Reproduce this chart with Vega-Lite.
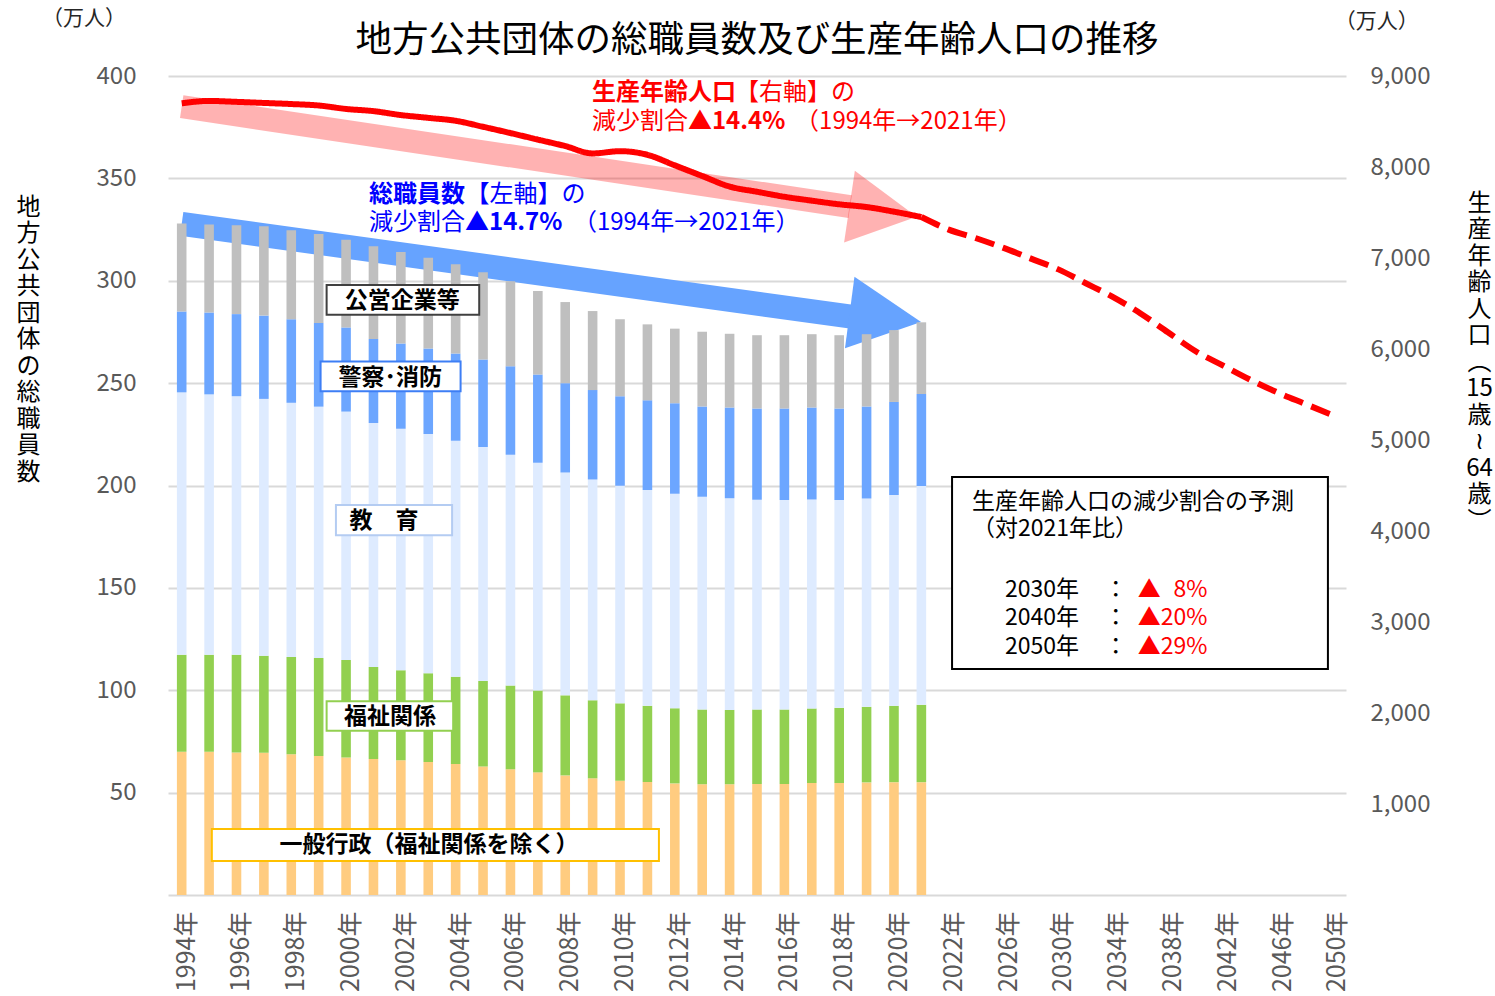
{
  "$schema": "https://vega.github.io/schema/vega-lite/v6.json",
  "width": 1178,
  "height": 819,
  "autosize": {"type": "none"},
  "padding": {"left": 168, "top": 76, "right": 149, "bottom": 101},
  "background": "#FFFFFF",
  "config": {"font": "Noto Sans CJK JP", "view": {"stroke": null}},
  "layer": [
    {
      "layer": [
        {
          "encoding": {
            "x": {"field": "xi", "type": "quantitative", "scale": {"domain": [-0.5, 42.5], "nice": false, "zero": false}, "axis": null},
            "y": {"field": "v", "type": "quantitative", "scale": {"domain": [0, 400], "nice": false, "zero": false}, "axis": null}
          },
          "layer": [
            {"data": {"values": [{"xi": 0, "v": 385.0}, {"xi": 24.4, "v": 336.2}]},
             "mark": {"type": "line", "color": "#FF0000", "opacity": 0.3, "strokeWidth": 23, "strokeCap": "butt"}},
            {"data": {"values": [{"xi": 26.83, "v": 331.3}]},
             "mark": {"type": "point", "shape": "M0,0L-1,-0.535L-1,0.535Z", "filled": true, "color": "#FF0000", "opacity": 0.3, "size": 18496, "angle": 8.5, "strokeWidth": 0}},
            {"data": {"values": [{"xi": 0, "v": 327.8}, {"xi": 25.5, "v": 280.5}]},
             "mark": {"type": "line", "color": "#66A3FF", "strokeWidth": 24, "strokeCap": "butt"}},
            {"data": {"values": [{"xi": 26.99, "v": 279.9}]},
             "mark": {"type": "point", "shape": "M0,0L-1,-0.5L-1,0.5Z", "filled": true, "color": "#66A3FF", "opacity": 1, "size": 20736, "angle": 7.55, "strokeWidth": 0}}
          ]
        },
        {
          "data": {"values": [
            {"x":"1994年","seg":"一般行政","o":1,"v":70.0},{"x":"1994年","seg":"福祉関係","o":2,"v":47.3},{"x":"1994年","seg":"教育","o":3,"v":128.2},{"x":"1994年","seg":"警察・消防","o":4,"v":39.5},{"x":"1994年","seg":"公営企業等","o":5,"v":43.0},
            {"x":"1995年","seg":"一般行政","o":1,"v":70.0},{"x":"1995年","seg":"福祉関係","o":2,"v":47.3},{"x":"1995年","seg":"教育","o":3,"v":127.2},{"x":"1995年","seg":"警察・消防","o":4,"v":40.0},{"x":"1995年","seg":"公営企業等","o":5,"v":43.0},
            {"x":"1996年","seg":"一般行政","o":1,"v":69.6},{"x":"1996年","seg":"福祉関係","o":2,"v":47.7},{"x":"1996年","seg":"教育","o":3,"v":126.3},{"x":"1996年","seg":"警察・消防","o":4,"v":40.1},{"x":"1996年","seg":"公営企業等","o":5,"v":43.4},
            {"x":"1997年","seg":"一般行政","o":1,"v":69.5},{"x":"1997年","seg":"福祉関係","o":2,"v":47.4},{"x":"1997年","seg":"教育","o":3,"v":125.4},{"x":"1997年","seg":"警察・消防","o":4,"v":40.7},{"x":"1997年","seg":"公営企業等","o":5,"v":43.6},
            {"x":"1998年","seg":"一般行政","o":1,"v":68.8},{"x":"1998年","seg":"福祉関係","o":2,"v":47.5},{"x":"1998年","seg":"教育","o":3,"v":124.1},{"x":"1998年","seg":"警察・消防","o":4,"v":40.8},{"x":"1998年","seg":"公営企業等","o":5,"v":43.5},
            {"x":"1999年","seg":"一般行政","o":1,"v":67.9},{"x":"1999年","seg":"福祉関係","o":2,"v":47.9},{"x":"1999年","seg":"教育","o":3,"v":122.7},{"x":"1999年","seg":"警察・消防","o":4,"v":40.9},{"x":"1999年","seg":"公営企業等","o":5,"v":43.4},
            {"x":"2000年","seg":"一般行政","o":1,"v":67.2},{"x":"2000年","seg":"福祉関係","o":2,"v":47.6},{"x":"2000年","seg":"教育","o":3,"v":121.3},{"x":"2000年","seg":"警察・消防","o":4,"v":41.1},{"x":"2000年","seg":"公営企業等","o":5,"v":42.8},
            {"x":"2001年","seg":"一般行政","o":1,"v":66.4},{"x":"2001年","seg":"福祉関係","o":2,"v":44.9},{"x":"2001年","seg":"教育","o":3,"v":119.2},{"x":"2001年","seg":"警察・消防","o":4,"v":41.1},{"x":"2001年","seg":"公営企業等","o":5,"v":45.2},
            {"x":"2002年","seg":"一般行政","o":1,"v":65.8},{"x":"2002年","seg":"福祉関係","o":2,"v":44.0},{"x":"2002年","seg":"教育","o":3,"v":117.9},{"x":"2002年","seg":"警察・消防","o":4,"v":41.7},{"x":"2002年","seg":"公営企業等","o":5,"v":44.6},
            {"x":"2003年","seg":"一般行政","o":1,"v":64.9},{"x":"2003年","seg":"福祉関係","o":2,"v":43.4},{"x":"2003年","seg":"教育","o":3,"v":116.8},{"x":"2003年","seg":"警察・消防","o":4,"v":41.8},{"x":"2003年","seg":"公営企業等","o":5,"v":44.3},
            {"x":"2004年","seg":"一般行政","o":1,"v":64.0},{"x":"2004年","seg":"福祉関係","o":2,"v":42.6},{"x":"2004年","seg":"教育","o":3,"v":115.3},{"x":"2004年","seg":"警察・消防","o":4,"v":42.6},{"x":"2004年","seg":"公営企業等","o":5,"v":43.6},
            {"x":"2005年","seg":"一般行政","o":1,"v":62.8},{"x":"2005年","seg":"福祉関係","o":2,"v":41.7},{"x":"2005年","seg":"教育","o":3,"v":114.3},{"x":"2005年","seg":"警察・消防","o":4,"v":42.7},{"x":"2005年","seg":"公営企業等","o":5,"v":42.6},
            {"x":"2006年","seg":"一般行政","o":1,"v":61.4},{"x":"2006年","seg":"福祉関係","o":2,"v":40.9},{"x":"2006年","seg":"教育","o":3,"v":112.7},{"x":"2006年","seg":"警察・消防","o":4,"v":43.3},{"x":"2006年","seg":"公営企業等","o":5,"v":41.4},
            {"x":"2007年","seg":"一般行政","o":1,"v":59.9},{"x":"2007年","seg":"福祉関係","o":2,"v":40.0},{"x":"2007年","seg":"教育","o":3,"v":111.2},{"x":"2007年","seg":"警察・消防","o":4,"v":43.1},{"x":"2007年","seg":"公営企業等","o":5,"v":40.8},
            {"x":"2008年","seg":"一般行政","o":1,"v":58.4},{"x":"2008年","seg":"福祉関係","o":2,"v":39.1},{"x":"2008年","seg":"教育","o":3,"v":108.8},{"x":"2008年","seg":"警察・消防","o":4,"v":43.7},{"x":"2008年","seg":"公営企業等","o":5,"v":39.6},
            {"x":"2009年","seg":"一般行政","o":1,"v":57.0},{"x":"2009年","seg":"福祉関係","o":2,"v":38.1},{"x":"2009年","seg":"教育","o":3,"v":107.8},{"x":"2009年","seg":"警察・消防","o":4,"v":43.7},{"x":"2009年","seg":"公営企業等","o":5,"v":38.6},
            {"x":"2010年","seg":"一般行政","o":1,"v":55.8},{"x":"2010年","seg":"福祉関係","o":2,"v":37.8},{"x":"2010年","seg":"教育","o":3,"v":106.3},{"x":"2010年","seg":"警察・消防","o":4,"v":43.7},{"x":"2010年","seg":"公営企業等","o":5,"v":37.6},
            {"x":"2011年","seg":"一般行政","o":1,"v":55.2},{"x":"2011年","seg":"福祉関係","o":2,"v":37.2},{"x":"2011年","seg":"教育","o":3,"v":105.4},{"x":"2011年","seg":"警察・消防","o":4,"v":43.8},{"x":"2011年","seg":"公営企業等","o":5,"v":37.1},
            {"x":"2012年","seg":"一般行政","o":1,"v":54.5},{"x":"2012年","seg":"福祉関係","o":2,"v":36.7},{"x":"2012年","seg":"教育","o":3,"v":104.8},{"x":"2012年","seg":"警察・消防","o":4,"v":44.2},{"x":"2012年","seg":"公営企業等","o":5,"v":36.4},
            {"x":"2013年","seg":"一般行政","o":1,"v":54.1},{"x":"2013年","seg":"福祉関係","o":2,"v":36.5},{"x":"2013年","seg":"教育","o":3,"v":103.9},{"x":"2013年","seg":"警察・消防","o":4,"v":44.1},{"x":"2013年","seg":"公営企業等","o":5,"v":36.5},
            {"x":"2014年","seg":"一般行政","o":1,"v":54.1},{"x":"2014年","seg":"福祉関係","o":2,"v":36.3},{"x":"2014年","seg":"教育","o":3,"v":103.4},{"x":"2014年","seg":"警察・消防","o":4,"v":44.3},{"x":"2014年","seg":"公営企業等","o":5,"v":36.0},
            {"x":"2015年","seg":"一般行政","o":1,"v":54.2},{"x":"2015年","seg":"福祉関係","o":2,"v":36.4},{"x":"2015年","seg":"教育","o":3,"v":102.5},{"x":"2015年","seg":"警察・消防","o":4,"v":44.5},{"x":"2015年","seg":"公営企業等","o":5,"v":35.8},
            {"x":"2016年","seg":"一般行政","o":1,"v":54.2},{"x":"2016年","seg":"福祉関係","o":2,"v":36.4},{"x":"2016年","seg":"教育","o":3,"v":102.3},{"x":"2016年","seg":"警察・消防","o":4,"v":44.7},{"x":"2016年","seg":"公営企業等","o":5,"v":35.8},
            {"x":"2017年","seg":"一般行政","o":1,"v":54.7},{"x":"2017年","seg":"福祉関係","o":2,"v":36.4},{"x":"2017年","seg":"教育","o":3,"v":102.1},{"x":"2017年","seg":"警察・消防","o":4,"v":44.9},{"x":"2017年","seg":"公営企業等","o":5,"v":35.8},
            {"x":"2018年","seg":"一般行政","o":1,"v":54.7},{"x":"2018年","seg":"福祉関係","o":2,"v":36.7},{"x":"2018年","seg":"教育","o":3,"v":101.5},{"x":"2018年","seg":"警察・消防","o":4,"v":44.7},{"x":"2018年","seg":"公営企業等","o":5,"v":35.8},
            {"x":"2019年","seg":"一般行政","o":1,"v":55.0},{"x":"2019年","seg":"福祉関係","o":2,"v":36.9},{"x":"2019年","seg":"教育","o":3,"v":101.7},{"x":"2019年","seg":"警察・消防","o":4,"v":45.0},{"x":"2019年","seg":"公営企業等","o":5,"v":35.3},
            {"x":"2020年","seg":"一般行政","o":1,"v":55.1},{"x":"2020年","seg":"福祉関係","o":2,"v":37.3},{"x":"2020年","seg":"教育","o":3,"v":102.9},{"x":"2020年","seg":"警察・消防","o":4,"v":45.5},{"x":"2020年","seg":"公営企業等","o":5,"v":35.1},
            {"x":"2021年","seg":"一般行政","o":1,"v":55.1},{"x":"2021年","seg":"福祉関係","o":2,"v":37.8},{"x":"2021年","seg":"教育","o":3,"v":106.9},{"x":"2021年","seg":"警察・消防","o":4,"v":44.9},{"x":"2021年","seg":"公営企業等","o":5,"v":35.0}
          ]},
          "mark": {"type": "bar", "width": {"band": 0.35}},
          "encoding": {
            "x": {
              "field": "x", "type": "ordinal",
              "scale": {"domain": ["1994年","1995年","1996年","1997年","1998年","1999年","2000年","2001年","2002年","2003年","2004年","2005年","2006年","2007年","2008年","2009年","2010年","2011年","2012年","2013年","2014年","2015年","2016年","2017年","2018年","2019年","2020年","2021年","2022年","2024年","2026年","2028年","2030年","2032年","2034年","2036年","2038年","2040年","2042年","2044年","2046年","2048年","2050年"], "paddingInner": 0, "paddingOuter": 0},
              "axis": {
                "orient": "bottom",
                "values": ["1994年","1996年","1998年","2000年","2002年","2004年","2006年","2008年","2010年","2012年","2014年","2016年","2018年","2020年","2022年","2026年","2030年","2034年","2038年","2042年","2046年","2050年"],
                "labelAngle": -90, "labelFontSize": 25, "labelColor": "#595959", "labelPadding": 16, "labelOffset": 5,
                "ticks": false, "domain": true, "domainColor": "#D9D9D9", "domainWidth": 2, "grid": false, "title": null
              }
            },
            "y": {
              "field": "v", "type": "quantitative", "stack": "zero",
              "scale": {"domain": [0, 400], "nice": false},
              "axis": {
                "orient": "left",
                "values": [50, 100, 150, 200, 250, 300, 350, 400],
                "grid": true, "gridColor": "#D9D9D9", "gridWidth": 2, "domain": false, "ticks": false,
                "labelFontSize": 24, "labelColor": "#595959", "labelPadding": 32,
                "title": ["地","方","公","共","団","体","の","総","職","員","数"],
                "titleAngle": 0, "titleAlign": "center", "titleBaseline": "top", "titleX": -140, "titleY": 119,
                "titleFontSize": 24, "titleFontWeight": "normal", "titleColor": "#000000", "titleLineHeight": 26.5
              }
            },
            "color": {
              "field": "seg", "type": "nominal",
              "scale": {"domain": ["一般行政","福祉関係","教育","警察・消防","公営企業等"], "range": ["#FFCC80","#92D050","#DEEBFF","#6CA6FF","#BFBFBF"]},
              "legend": null
            },
            "order": {"field": "o", "type": "quantitative"}
          }
        },
        {
          "encoding": {
            "x": {"field": "xi", "type": "quantitative", "scale": {"domain": [-0.5, 42.5], "nice": false, "zero": false}, "axis": null},
            "y": {"field": "v", "type": "quantitative", "scale": {"domain": [0, 400], "nice": false, "zero": false}, "axis": null}
          },
          "layer": [
            {
              "data": {"values": [
                {"box": "公営企業等", "xi": 5.29, "xi2": 10.86, "v": 297.9, "v2": 283.4},
                {"box": "警察・消防", "xi": 5.07, "xi2": 10.18, "v": 260.6, "v2": 246.0},
                {"box": "教育", "xi": 5.63, "xi2": 9.87, "v": 190.5, "v2": 175.7},
                {"box": "福祉関係", "xi": 5.29, "xi2": 9.91, "v": 94.6, "v2": 80.2},
                {"box": "一般行政", "xi": 1.10, "xi2": 17.42, "v": 32.2, "v2": 16.6},
                {"box": "予測", "xi": 28.12, "xi2": 41.84, "v": 204.2, "v2": 110.4}
              ]},
              "mark": {"type": "rect", "fill": "#FFFFFF", "strokeWidth": 2},
              "encoding": {
                "x2": {"field": "xi2"},
                "y2": {"field": "v2"},
                "stroke": {"field": "box", "type": "nominal", "scale": {"domain": ["公営企業等","警察・消防","教育","福祉関係","一般行政","予測"], "range": ["#404040","#3D7EF5","#B4CCF2","#92D050","#FFC000","#000000"]}, "legend": null}
              }
            },
            {
              "data": {"values": [
                {"t": "公営企業等", "xi": 8.05, "v": 289.9},
                {"t": "警察･消防", "xi": 7.61, "v": 252.5},
                {"t": "教　育", "xi": 7.38, "v": 182.8},
                {"t": "福祉関係", "xi": 7.60, "v": 86.9},
                {"t": "一般行政（福祉関係を除く）", "xi": 9.03, "v": 24.4}
              ]},
              "mark": {"type": "text", "fontSize": 23, "fontWeight": "bold", "color": "#000000", "align": "center", "baseline": "middle"},
              "encoding": {"text": {"field": "t"}}
            },
            {
              "data": {"values": [
                {"t": "生産年齢人口", "xi": 14.98, "v": 391.6},
                {"t": "▲14.4%", "xi": 18.48, "v": 377.7}
              ]},
              "mark": {"type": "text", "fontSize": 24, "fontWeight": "bold", "color": "#FF0000", "align": "left", "baseline": "middle"},
              "encoding": {"text": {"field": "t"}}
            },
            {
              "data": {"values": [
                {"t": "【右軸】の", "xi": 20.2, "v": 391.6},
                {"t": "減少割合", "xi": 14.98, "v": 377.7},
                {"t": "（1994年→2021年）", "xi": 22.39, "v": 377.7}
              ]},
              "mark": {"type": "text", "fontSize": 24, "fontWeight": "normal", "color": "#FF0000", "align": "left", "baseline": "middle"},
              "encoding": {"text": {"field": "t"}}
            },
            {
              "data": {"values": [
                {"t": "総職員数", "xi": 6.84, "v": 341.9},
                {"t": "▲14.7%", "xi": 10.34, "v": 328.1}
              ]},
              "mark": {"type": "text", "fontSize": 24, "fontWeight": "bold", "color": "#0000FF", "align": "left", "baseline": "middle"},
              "encoding": {"text": {"field": "t"}}
            },
            {
              "data": {"values": [
                {"t": "【左軸】の", "xi": 10.36, "v": 341.9},
                {"t": "減少割合", "xi": 6.84, "v": 328.1},
                {"t": "（1994年→2021年）", "xi": 14.28, "v": 328.1}
              ]},
              "mark": {"type": "text", "fontSize": 24, "fontWeight": "normal", "color": "#0000FF", "align": "left", "baseline": "middle"},
              "encoding": {"text": {"field": "t"}}
            },
            {
              "data": {"values": [
                {"t": "生産年齢人口の減少割合の予測", "xi": 28.85, "v": 192.1},
                {"t": "（対2021年比）", "xi": 28.85, "v": 178.6},
                {"t": "2030年", "xi": 30.05, "v": 149.0},
                {"t": "2040年", "xi": 30.05, "v": 135.1},
                {"t": "2050年", "xi": 30.05, "v": 121.3},
                {"t": "：", "xi": 33.68, "v": 149.0},
                {"t": "：", "xi": 33.68, "v": 135.1},
                {"t": "：", "xi": 33.68, "v": 121.3}
              ]},
              "mark": {"type": "text", "fontSize": 23, "color": "#000000", "align": "left", "baseline": "middle"},
              "encoding": {"text": {"field": "t"}}
            },
            {
              "data": {"values": [
                {"t": "▲\u20078%", "xi": 34.9, "v": 149.0},
                {"t": "▲20%", "xi": 34.9, "v": 135.1},
                {"t": "▲29%", "xi": 34.9, "v": 121.3}
              ]},
              "mark": {"type": "text", "fontSize": 23, "color": "#FF0000", "align": "left", "baseline": "middle"},
              "encoding": {"text": {"field": "t"}}
            },
            {
              "data": {"values": [
                {"t": "地方公共団体の総職員数及び生産年齢人口の推移", "xi": 21, "v": 417.0}
              ]},
              "mark": {"type": "text", "fontSize": 36.5, "color": "#000000", "align": "center", "baseline": "middle"},
              "encoding": {"text": {"field": "t"}}
            },
            {
              "data": {"values": [
                {"t": "（万人）", "xi": -3.57, "v": 427.8},
                {"t": "（万人）", "xi": 43.62, "v": 426.4}
              ]},
              "mark": {"type": "text", "fontSize": 21, "color": "#262626", "align": "center", "baseline": "middle"},
              "encoding": {"text": {"field": "t"}}
            }
          ]
        }
      ],
      "resolve": {"scale": {"x": "independent", "y": "independent"}}
    },
    {
      "data": {"values": [
        {"x":"1994年","pop":8700,"kind":"実績"},{"x":"1995年","pop":8726,"kind":"実績"},{"x":"1996年","pop":8716,"kind":"実績"},{"x":"1997年","pop":8704,"kind":"実績"},
        {"x":"1998年","pop":8692,"kind":"実績"},{"x":"1999年","pop":8676,"kind":"実績"},{"x":"2000年","pop":8638,"kind":"実績"},{"x":"2001年","pop":8614,"kind":"実績"},
        {"x":"2002年","pop":8571,"kind":"実績"},{"x":"2003年","pop":8540,"kind":"実績"},{"x":"2004年","pop":8508,"kind":"実績"},{"x":"2005年","pop":8442,"kind":"実績"},
        {"x":"2006年","pop":8373,"kind":"実績"},{"x":"2007年","pop":8301,"kind":"実績"},{"x":"2008年","pop":8230,"kind":"実績"},{"x":"2009年","pop":8149,"kind":"実績"},
        {"x":"2010年","pop":8174,"kind":"実績"},{"x":"2011年","pop":8134,"kind":"実績"},{"x":"2012年","pop":8018,"kind":"実績"},{"x":"2013年","pop":7901,"kind":"実績"},
        {"x":"2014年","pop":7785,"kind":"実績"},{"x":"2015年","pop":7728,"kind":"実績"},{"x":"2016年","pop":7673,"kind":"実績"},{"x":"2017年","pop":7630,"kind":"実績"},
        {"x":"2018年","pop":7590,"kind":"実績"},{"x":"2019年","pop":7560,"kind":"実績"},{"x":"2020年","pop":7509,"kind":"実績"},{"x":"2021年","pop":7450,"kind":"実績"},
        {"x":"2021年","pop":7450,"kind":"推計"},{"x":"2022年","pop":7312,"kind":"推計"},{"x":"2024年","pop":7217,"kind":"推計"},{"x":"2026年","pop":7111,"kind":"推計"},
        {"x":"2028年","pop":6993,"kind":"推計"},{"x":"2030年","pop":6875,"kind":"推計"},{"x":"2032年","pop":6723,"kind":"推計"},{"x":"2034年","pop":6570,"kind":"推計"},
        {"x":"2036年","pop":6391,"kind":"推計"},{"x":"2038年","pop":6184,"kind":"推計"},{"x":"2040年","pop":5978,"kind":"推計"},{"x":"2042年","pop":5820,"kind":"推計"},
        {"x":"2044年","pop":5663,"kind":"推計"},{"x":"2046年","pop":5522,"kind":"推計"},{"x":"2048年","pop":5398,"kind":"推計"},{"x":"2050年","pop":5275,"kind":"推計"}
      ]},
      "mark": {"type": "line", "color": "#FF0000", "strokeWidth": 6, "interpolate": "monotone"},
      "encoding": {
        "x": {
          "field": "x", "type": "ordinal",
          "scale": {"type": "point", "padding": 0.5, "domain": ["1994年","1995年","1996年","1997年","1998年","1999年","2000年","2001年","2002年","2003年","2004年","2005年","2006年","2007年","2008年","2009年","2010年","2011年","2012年","2013年","2014年","2015年","2016年","2017年","2018年","2019年","2020年","2021年","2022年","2024年","2026年","2028年","2030年","2032年","2034年","2036年","2038年","2040年","2042年","2044年","2046年","2048年","2050年"]},
          "axis": null
        },
        "y": {
          "field": "pop", "type": "quantitative",
          "scale": {"domain": [0, 9000], "nice": false},
          "axis": {
            "orient": "right",
            "values": [1000, 2000, 3000, 4000, 5000, 6000, 7000, 8000, 9000],
            "format": ",.0f",
            "grid": false, "domain": false, "ticks": false,
            "labelFontSize": 24, "labelColor": "#595959", "labelPadding": 24,
            "title": ["生","産","年","齢","人","口","︵","15","歳","≀","64","歳","︶"],
            "titleAngle": 0, "titleAlign": "center", "titleBaseline": "top", "titleX": 133, "titleY": 115,
            "titleFontSize": 24, "titleFontWeight": "normal", "titleColor": "#000000", "titleLineHeight": 26.5
          }
        },
        "strokeDash": {
          "field": "kind", "type": "nominal",
          "scale": {"domain": ["実績", "推計"], "range": [[1, 0], [20, 9]]},
          "legend": null
        }
      }
    }
  ],
  "resolve": {"scale": {"x": "independent", "y": "independent"}}
}
